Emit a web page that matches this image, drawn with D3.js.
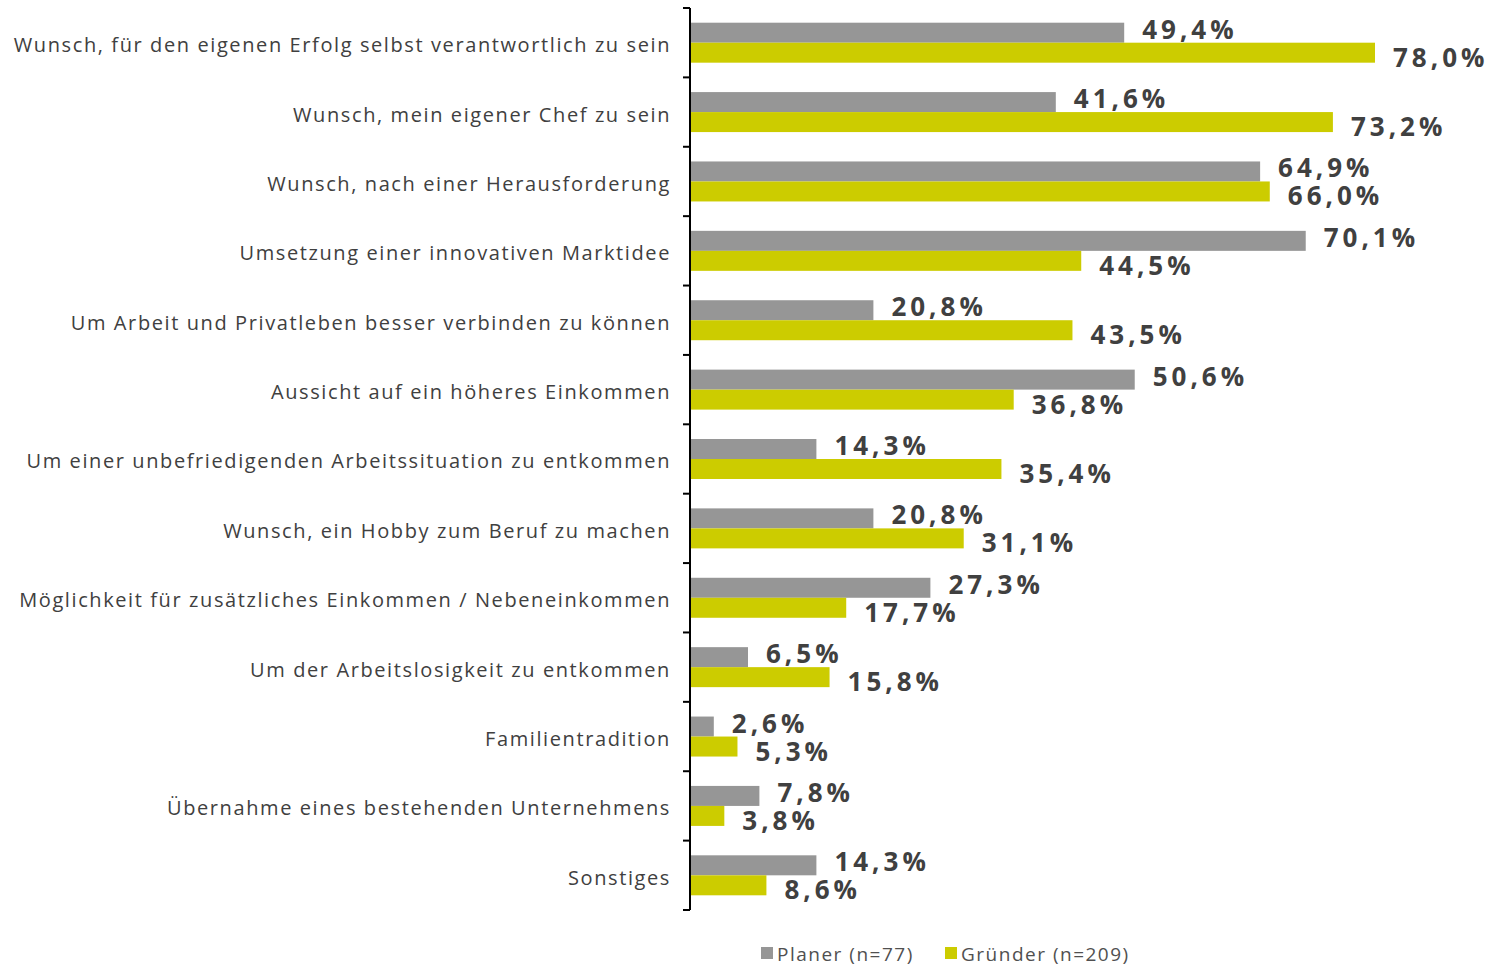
<!DOCTYPE html>
<html>
<head>
<meta charset="utf-8">
<script src="https://cdn.jsdelivr.net/npm/d3@7"></script>
<style>
  body { margin: 0; background: #fff; }
  text { font-family: "Open Sans", sans-serif; fill: #404040; }
</style>
</head>
<body>
<div id="chart"></div>
<script>
// Motive zur Gründung: Planer vs. Gründer
const categories = [
  "Wunsch, für den eigenen Erfolg selbst verantwortlich zu sein",
  "Wunsch, mein eigener Chef zu sein",
  "Wunsch, nach einer Herausforderung",
  "Umsetzung einer innovativen Marktidee",
  "Um Arbeit und Privatleben besser verbinden zu können",
  "Aussicht auf ein höheres Einkommen",
  "Um einer unbefriedigenden Arbeitssituation zu entkommen",
  "Wunsch, ein Hobby zum Beruf zu machen",
  "Möglichkeit für zusätzliches Einkommen / Nebeneinkommen",
  "Um der Arbeitslosigkeit zu entkommen",
  "Familientradition",
  "Übernahme eines bestehenden Unternehmens",
  "Sonstiges"
];
const planer = [49.4, 41.6, 64.9, 70.1, 20.8, 50.6, 14.3, 20.8, 27.3, 6.5, 2.6, 7.8, 14.3];
const gruender = [78.0, 73.2, 66.0, 44.5, 43.5, 36.8, 35.4, 31.1, 17.7, 15.8, 5.3, 3.8, 8.6];
const seriesNames = ["Planer (n=77)", "Gründer (n=209)"];
const colors = ["#969696", "#cccc00"];

const W = 1490, H = 966;
const margin = {top: 8, left: 691, bottom: 56};
const svg = d3.select("#chart").append("svg").attr("width", W).attr("height", H);

const x = d3.scaleLinear().domain([0, 78]).range([margin.left, 1375]);
const y = d3.scaleBand().domain(categories).range([margin.top, H - margin.bottom]);
const sub = d3.scaleBand().domain([0, 1]).range([0, y.bandwidth()]).paddingOuter(0.735);

const rows = categories.map((c, i) => ({c, vals: [planer[i], gruender[i]]}));

const g = svg.selectAll("g.row").data(rows).join("g")
  .attr("transform", d => `translate(0,${y(d.c)})`);

g.selectAll("rect").data(d => d.vals).join("rect")
  .attr("x", x(0))
  .attr("y", (d, i) => sub(i))
  .attr("width", d => x(d) - x(0))
  .attr("height", sub.bandwidth())
  .attr("fill", (d, i) => colors[i]);

g.selectAll("text.val").data(d => d.vals).join("text").attr("class", "val")
  .attr("x", d => x(d) + 18)
  .attr("y", (d, i) => sub(i) + sub.bandwidth() / 2 + (i === 0 ? -4 : 4))
  .attr("dominant-baseline", "central")
  .style("font-size", "26px").style("font-weight", "bold").style("letter-spacing", "4px")
  .text(d => d.toFixed(1).replace(".", ",") + "%");

g.append("text")
  .attr("x", 671).attr("y", y.bandwidth() / 2 + 2)
  .attr("text-anchor", "end").attr("dominant-baseline", "central")
  .style("font-size", "20px").style("letter-spacing", "1.6px")
  .text(d => d.c);

// axis with ticks between categories
const yAxis = svg.append("g");
yAxis.append("line").attr("x1", 690).attr("x2", 690)
  .attr("y1", y.range()[0]).attr("y2", y.range()[1])
  .attr("stroke", "#000").attr("stroke-width", 2);
const bounds = categories.map(c => y(c)).concat([y.range()[1]]);
yAxis.selectAll("line.tick").data(bounds).join("line").attr("class", "tick")
  .attr("x1", 683).attr("x2", 690).attr("y1", d => d).attr("y2", d => d)
  .attr("stroke", "#000").attr("stroke-width", 2);

// legend
const leg = svg.append("g").attr("transform", "translate(761,954)");
const lx = [0, 184];
seriesNames.forEach((s, i) => {
  leg.append("rect").attr("x", lx[i]).attr("y", -7).attr("width", 12).attr("height", 12).attr("fill", colors[i]);
  leg.append("text").attr("x", lx[i] + 16).attr("y", 0).attr("dominant-baseline", "central")
    .style("font-size", "19px").style("letter-spacing", "1.5px").style("fill", "#505050").text(s);
});
</script>
</body>
</html>
